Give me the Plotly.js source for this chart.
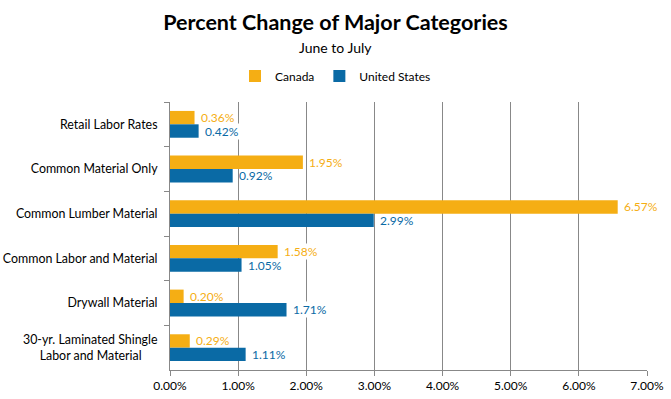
<!DOCTYPE html>
<html>
<head>
<meta charset="utf-8">
<script src="https://cdn.plot.ly/plotly-3.0.1.min.js"></script>
<style>html,body{margin:0;padding:0;background:#fff;}#chart{width:671px;height:399px;}</style>
</head>
<body>
<div id="chart"></div>
<script>
const categories = [
  "Retail Labor Rates",
  "Common Material Only",
  "Common Lumber Material",
  "Common Labor and Material",
  "Drywall Material",
  "30-yr. Laminated Shingle<br>Labor and Material\u00A0\u00A0\u00A0\u00A0\u00A0"
];
const canada = [0.36, 1.95, 6.57, 1.58, 0.20, 0.29];
const unitedStates = [0.42, 0.92, 2.99, 1.05, 1.71, 1.11];
const seriesNames = ["Canada", "United States"];
const tickValues = [0, 1, 2, 3, 4, 5, 6, 7];
const tickLabels = ["0.00%", "1.00%", "2.00%", "3.00%", "4.00%", "5.00%", "6.00%", "7.00%"];

const orange = "#F5AE14";
const blue = "#0A6AA5";
const FONT = "Lato, 'Open Sans', sans-serif";

const traces = [
  {type: "bar", orientation: "h", name: seriesNames[0], y: categories, x: canada,
   marker: {color: orange}, hoverinfo: "x"},
  {type: "bar", orientation: "h", name: seriesNames[1], y: categories, x: unitedStates,
   marker: {color: blue}, hoverinfo: "x"}
];

const annotations = [];
categories.forEach((c, i) => {
  annotations.push({x: canada[i], y: c, xref: "x", yref: "y", text: canada[i].toFixed(2) + "%",
    showarrow: false, xanchor: "left", yanchor: "middle", xshift: 5, yshift: 6.7,
    bgcolor: unitedStates[i] < canada[i] ? "#ffffff" : "rgba(0,0,0,0)", borderpad: 0,
    font: {family: FONT, size: 12, color: orange}});
  annotations.push({x: unitedStates[i], y: c, xref: "x", yref: "y", text: unitedStates[i].toFixed(2) + "%",
    showarrow: false, xanchor: "left", yanchor: "middle", xshift: 5, yshift: -6.7,
    bgcolor: canada[i] < unitedStates[i] ? "#ffffff" : "rgba(0,0,0,0)", borderpad: 0,
    font: {family: FONT, size: 12, color: blue}});
});
annotations.push({text: "June to July", xref: "paper", yref: "paper", x: (335.5 - 170) / 477, y: 1.205,
  xanchor: "center", yanchor: "middle", showarrow: false,
  font: {family: FONT, size: 14, color: "#000"}});

const layout = {
  width: 671, height: 399,
  margin: {l: 170, r: 24, t: 102, b: 29},
  paper_bgcolor: "#fff", plot_bgcolor: "#fff",
  font: {family: FONT, size: 12, color: "#000"},
  title: {text: "<b>Percent Change of Major Categories</b>", x: 0.5, xref: "container",
    y: 1 - 22/399, yref: "container", yanchor: "middle",
    font: {family: FONT, size: 21.5, color: "#000"}},
  barmode: "group", bargap: 0.4, bargroupgap: 0,
  showlegend: true,
  legend: {orientation: "h", xref: "container", x: 0.5, xanchor: "center",
    yref: "container", y: 1 - 76/399, yanchor: "middle",
    font: {family: FONT, size: 12, color: "#000"}, itemwidth: 30, entrywidth: 0,
    traceorder: "normal"},
  xaxis: {range: [0, 7], tickmode: "array", tickvals: tickValues, ticktext: tickLabels,
    showgrid: true, gridcolor: "#888", gridwidth: 1, zeroline: false,
    showline: true, linecolor: "#888", ticks: "outside", ticklen: 5, tickcolor: "#888",
    tickfont: {family: FONT, size: 12, color: "#000"}, fixedrange: true},
  yaxis: {autorange: "reversed", type: "category", showgrid: false, zeroline: false,
    showline: true, linecolor: "#888", ticks: "outside", tickson: "boundaries",
    ticklen: 5, tickcolor: "#888", ticklabelstandoff: 9,
    tickfont: {family: FONT, size: 12.4, color: "#000"}, fixedrange: true},
  annotations: annotations
};

Plotly.newPlot("chart", traces, layout, {displayModeBar: false, staticPlot: true});
</script>
</body>
</html>
